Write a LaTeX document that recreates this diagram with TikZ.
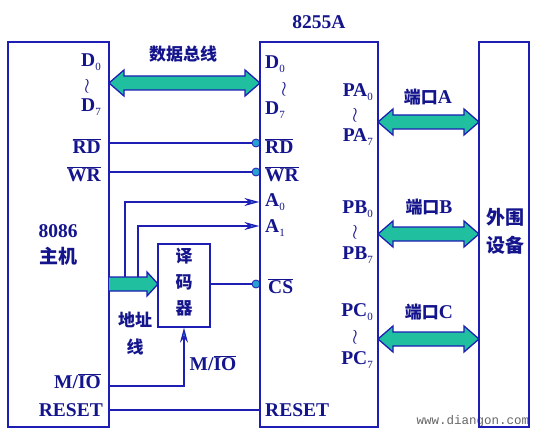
\documentclass[tikz,border=0pt]{standalone}
\usepackage{fontspec}
\setmainfont{Liberation Serif}
\newfontfamily\cjk{Noto Sans CJK SC}
\newfontfamily\wmfont{Liberation Mono}
\usetikzlibrary{arrows.meta}
\definecolor{lineblue}{HTML}{1E1EB4}
\definecolor{txtblue}{HTML}{14148C}
\definecolor{busteal}{HTML}{20BFA0}
\definecolor{tipcyan}{HTML}{2AA0D0}
\newcommand\sub[1]{\raisebox{-4pt}{\fontsize{11}{11}\selectfont\mdseries #1}}
\newcommand\ovl[1]{$\overline{\hbox{#1}}$}
\newcommand\wrs{$\wr$}
% double bus arrow: x1, x2, y
\newcommand\dbus[3]{%
  \filldraw[fill=busteal,draw=lineblue,line width=1.3pt,line join=miter]
    (#1,#3) -- (#1+15,#3-13) -- (#1+15,#3-7) -- (#2-15,#3-7) -- (#2-15,#3-13)
    -- (#2,#3) -- (#2-15,#3+13) -- (#2-15,#3+7) -- (#1+15,#3+7) -- (#1+15,#3+13) -- cycle;}
\begin{document}
\begin{tikzpicture}[x=1pt,y=-1pt,
  box/.style={draw=lineblue,line width=1.4pt,inner sep=0pt},
  lbl/.style={text=txtblue,font=\fontsize{19.5}{19.5}\selectfont\bfseries,inner sep=0pt},
  cn/.style={text=txtblue,font=\cjk\fontsize{17}{17}\selectfont\bfseries,inner sep=0pt},
  wire/.style={draw=lineblue,line width=1.3pt},
  sig/.style={wire,-{Stealth[length=15pt,width=8pt,fill=tipcyan]}},
  dotc/.style={circle,fill=tipcyan,draw=lineblue,line width=0.8pt,minimum size=8pt,inner sep=0pt}]
\useasboundingbox (0,0) rectangle (536,436);
\fill[white] (0,0) rectangle (536,436);

% watermark
\node[text=black!60,font=\wmfont\fontsize{12.5}{12.5}\selectfont,inner sep=0pt] (wm) at (473,421) {www.diangon.com};

% dots (drawn before the chip box)
\node[dotc] (dRD) at (256,143) {};
\node[dotc] (dWR) at (256,172) {};
\node[dotc] (dCS) at (256,284) {};

% boxes
\node[box,minimum width=101pt,minimum height=385pt] (host) at (58.5,234.5) {};
\node[box,minimum width=118pt,minimum height=385pt] (chip) at (319,234.5) {};
\node[box,minimum width=50pt,minimum height=385pt] (periph) at (504,234.5) {};
\node[box,minimum width=52pt,minimum height=83pt] (dec) at (184,285.5) {};

% wires
\draw[wire] (host.east |- 0,143) -- (dRD.west);
\draw[wire] (host.east |- 0,172) -- (dWR.west);
\draw[wire] (dec.east |- 0,284) -- (dCS.west);
\draw[wire] (host.east |- 0,410) -- (chip.west |- 0,410);
\coordinate (a0s) at (125,278);
\coordinate (a1s) at (138,278);
\draw[sig] (a0s) |- (chip.west |- 0,202);
\draw[sig] (a1s) |- (chip.west |- 0,226);
\draw[sig] (host.east |- 0,386) -| (dec.south);

% address bus arrow
\filldraw[fill=busteal,draw=lineblue,line width=1.3pt,line join=miter]
  (109,277) -- (147,277) -- (147,272) -- (158,284) -- (147,296) -- (147,291) -- (109,291);

% big double arrows
\dbus{109}{260}{83}
\dbus{378}{479}{122}
\dbus{378}{479}{234}
\dbus{378}{479}{339}

% host labels
\node[lbl,anchor=east] (hD0) at (101,62) {D\sub{0}};
\node[lbl] (hw) at (87,86) {\wrs};
\node[lbl,anchor=east] (hD7) at (101,107) {D\sub{7}};
\node[lbl,anchor=east] (hRD) at (101,146) {\ovl{RD}};
\node[lbl,anchor=east] (hWR) at (101,174) {\ovl{WR}};
\node[lbl] (h8086) at (58,231) {8086};
\node[cn,font=\cjk\fontsize{19}{19}\selectfont\bfseries] (hzj) at (58,256) {主机};
\node[lbl,anchor=east] (hMIO) at (101,381) {M/\ovl{IO}};
\node[lbl,anchor=east] (hRST) at (103,410) {RESET};

% bus labels
\node[cn] (lbus) at (183,54) {数据总线};
\node[cn] (ladr1) at (135,320) {地址};
\node[cn] (ladr2) at (135,347) {线};
\node[cn] (ld1) at (184,256) {译};
\node[cn] (ld2) at (184,282) {码};
\node[cn] (ld3) at (184,308) {器};
\node[lbl] (lmio) at (213,363) {M/\ovl{IO}};

% chip labels
\node[lbl] (c8255) at (319,22) {8255A};
\node[lbl,anchor=west] (cD0) at (265,64) {D\sub{0}};
\node[lbl] (cw) at (284,89) {\wrs};
\node[lbl,anchor=west] (cD7) at (265,110) {D\sub{7}};
\node[lbl,anchor=west] (cRD) at (265,146) {\ovl{RD}};
\node[lbl,anchor=west] (cWR) at (265,174) {\ovl{WR}};
\node[lbl,anchor=west] (cA0) at (265,202) {A\sub{0}};
\node[lbl,anchor=west] (cA1) at (265,228) {A\sub{1}};
\node[lbl,anchor=west] (cCS) at (268,286) {\ovl{CS}};
\node[lbl,anchor=west] (cRST) at (265,410) {RESET};

\node[lbl,anchor=east] (pa0) at (373,92) {PA\sub{0}};
\node[lbl] (paw) at (355,115) {\wrs};
\node[lbl,anchor=east] (pa7) at (373,137) {PA\sub{7}};
\node[lbl,anchor=east] (pb0) at (373,209) {PB\sub{0}};
\node[lbl] (pbw) at (355,232) {\wrs};
\node[lbl,anchor=east] (pb7) at (373,255) {PB\sub{7}};
\node[lbl,anchor=east] (pc0) at (373,312) {PC\sub{0}};
\node[lbl] (pcw) at (355,337) {\wrs};
\node[lbl,anchor=east] (pc7) at (373,360) {PC\sub{7}};

% port labels
\node[cn] (lpA) at (428,97) {端口\fontspec{Liberation Serif}\fontsize{19.5}{19.5}\selectfont\bfseries A};
\node[cn] (lpB) at (429,207) {端口\fontspec{Liberation Serif}\fontsize{19.5}{19.5}\selectfont\bfseries B};
\node[cn] (lpC) at (429,312) {端口\fontspec{Liberation Serif}\fontsize{19.5}{19.5}\selectfont\bfseries C};
\node[cn,font=\cjk\fontsize{19}{19}\selectfont\bfseries] (pw1) at (505,217) {外围};
\node[cn,font=\cjk\fontsize{19}{19}\selectfont\bfseries] (pw2) at (505,245) {设备};
\end{tikzpicture}
\end{document}
